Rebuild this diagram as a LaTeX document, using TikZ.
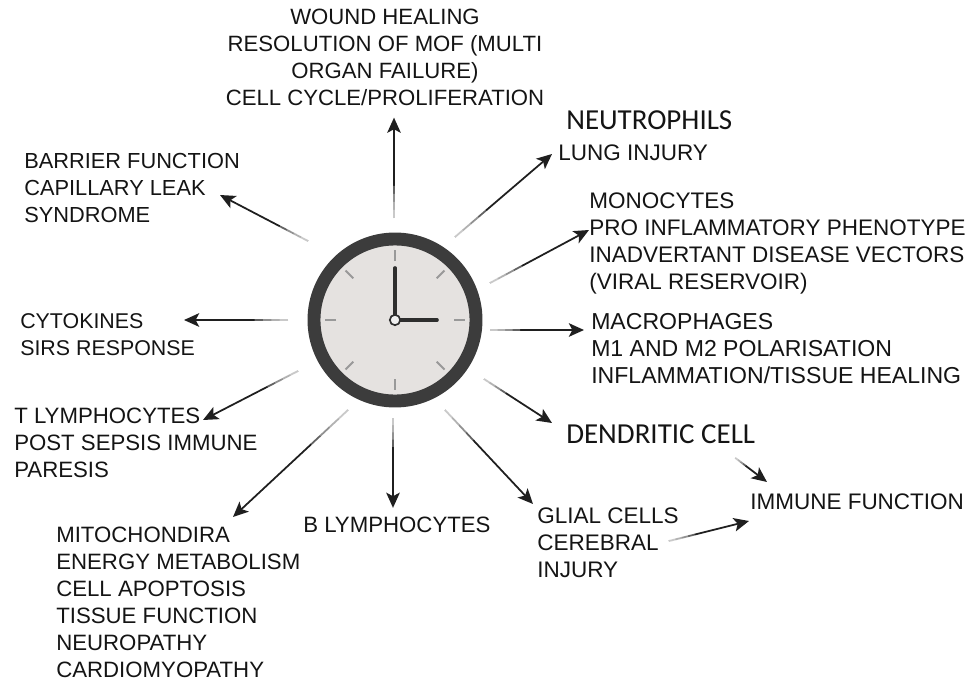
\documentclass[tikz,border=0pt]{standalone}
\usepackage{fontspec}
\setmainfont{Liberation Sans}
\newfontfamily\calfont{Carlito}
\usetikzlibrary{arrows.meta, calc}
\definecolor{rimcol}{RGB}{60,60,60}
\definecolor{facecol}{RGB}{229,226,224}
% arrow whose tail fades out
\newcommand{\ray}[2]{%
  \draw[arr] (#1) -- (#2);
  \foreach \f in {0.08,0.16,0.24,0.32} {
    \draw[tailfade] (#1) -- ($(#1)!\f!(#2)$);
  }
}

\begin{document}
\begin{tikzpicture}[x=0.025cm, y=-0.025cm,
  every node/.style={font=\fontsize{16}{19.2}\selectfont, align=left, inner sep=0pt, text=black!92},
  lbl/.style={anchor=west, font=\fontsize{#1}{19.2}\selectfont},
  lbl/.default=16,
  lblalt/.style={anchor=west, font=\fontsize{20.6}{19.2}\selectfont\calfont},
  arr/.style={-{Stealth[length=3.8mm, width=3.4mm, inset=0.9mm]}, line width=1.25pt, draw=black!88},
  tailfade/.style={draw=white, opacity=0.3, line width=2pt},
  rim/.style={circle, draw=rimcol, fill=facecol, line width=9.2pt, minimum size=4.05cm},
  tick/.style={draw=black!40, line width=1.3pt},
  hand/.style={draw=black!82, line width=2.6pt, line cap=round}
]
  \useasboundingbox (0,0) rectangle (968,683);

  % --- Clock ---
  \node[rim] (clock) at (395,320) {};
  \foreach \ang in {0,45,...,315} {
    \draw[tick] ($(clock.center)+(\ang:59)$) -- ($(clock.center)+(\ang:70)$);
  }
  \draw[hand] (clock.center) -- ++(0,-52);
  \draw[hand] (clock.center) -- ++(42,0);
  \node[circle, draw=black!82, fill=black!6, line width=1.2pt, minimum size=0.26cm] (hub) at (clock.center) {};

  % --- Labels ---
  \node[align=center, font=\fontsize{15.75}{19.2}\selectfont] (wound) at (385,57) {WOUND HEALING\\RESOLUTION OF MOF (MULTI\\ORGAN FAILURE)\\CELL CYCLE/PROLIFERATION};
  \node[lblalt] (neutro) at (566,120) {NEUTROPHILS};
  \node[lbl] (lung) at (558,153) {LUNG INJURY};
  \node[lbl] (mono) at (589,243) {MONOCYTES\\PRO INFLAMMATORY PHENOTYPE\\INADVERTANT DISEASE VECTORS\\(VIRAL RESERVOIR)};
  \node[lbl=16.4] (macro) at (591,349) {MACROPHAGES\\M1 AND M2 POLARISATION\\INFLAMMATION/TISSUE HEALING};
  \node[lblalt] (dend) at (566,434) {DENDRITIC CELL};
  \node[lbl] (immune) at (750,502) {IMMUNE FUNCTION};
  \node[lbl] (glial) at (537,543) {GLIAL CELLS\\CEREBRAL\\INJURY};
  \node[lbl=15.8] (blymph) at (303,525) {B LYMPHOCYTES};
  \node[lbl=15.8] (mito) at (56,602) {MITOCHONDIRA\\ENERGY METABOLISM\\CELL APOPTOSIS\\TISSUE FUNCTION\\NEUROPATHY\\CARDIOMYOPATHY};
  \node[lbl=15.8] (tlymph) at (14,443) {T LYMPHOCYTES\\POST SEPSIS IMMUNE\\PARESIS};
  \node[lbl=15.2] (cyto) at (20,335) {CYTOKINES\\SIRS RESPONSE};
  \node[lbl=15.5] (barrier) at (24,188) {BARRIER FUNCTION\\CAPILLARY LEAK\\SYNDROME};

  % --- Rays (free ends around the clock) ---
  \coordinate (rayN) at (394,218);
  \coordinate (rayNE) at (455,237);
  \coordinate (rayENE) at (490,283);
  \coordinate (rayE) at (490,330);
  \coordinate (raySE) at (484,379);
  \coordinate (raySSE) at (445,410);
  \coordinate (rayS) at (393,418);
  \coordinate (raySW) at (348,410);
  \coordinate (rayWSW) at (298,371);
  \coordinate (rayW) at (288,320);
  \coordinate (rayNW) at (308,241);

  % --- Arrows ---
  \ray{rayN}{$(rayN |- wound.south)+(0,12)$}
  \ray{rayNE}{$(lung.west)+(-6,1)$}
  \ray{rayENE}{$(mono.west)+(0,-13)$}
  \ray{rayE}{$(macro.west)+(-7,-19)$}
  \ray{raySE}{$(dend.west)+(-14,-11)$}
  \ray{raySSE}{$(glial.west)+(-4,-39)$}
  \ray{rayS}{$(rayS |- blymph.north)+(0,-9)$}
  \ray{raySW}{$(mito.west)+(177,-85)$}
  \ray{rayWSW}{$(tlymph.west)+(189,-23)$}
  \ray{rayW}{$(cyto.west)+(164,-15)$}
  \ray{rayNW}{$(barrier.west)+(196,7)$}

  % dendritic and glial cells feed immune function
  \ray{$(dend.east)+(-20,24)$}{$(immune.west)+(17,-20)$}
  \ray{$(glial.east)+(-10,-2)$}{$(immune.west)+(-1,19)$}
\end{tikzpicture}
\end{document}
